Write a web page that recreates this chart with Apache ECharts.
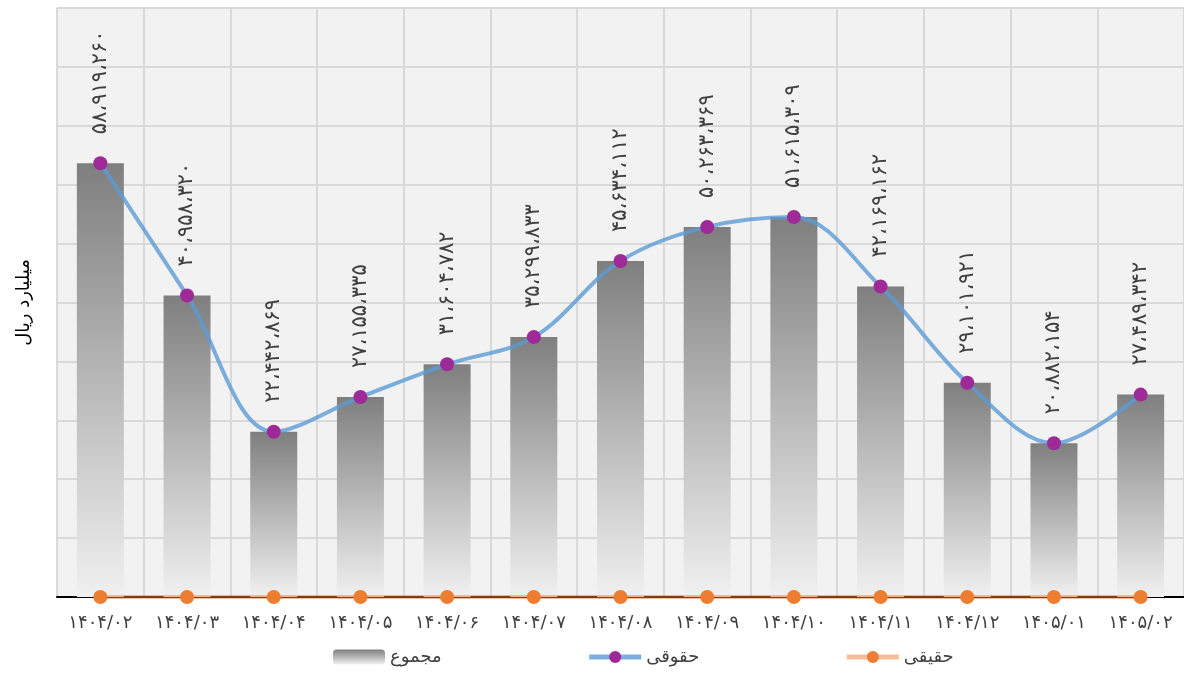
<!DOCTYPE html>
<html>
<head>
<meta charset="utf-8">
<script src="https://cdn.jsdelivr.net/npm/echarts@6/dist/echarts.min.js"></script>
<style>
  html, body { margin: 0; padding: 0; background: #ffffff; }
  #chart { width: 1184px; height: 675px; }
</style>
</head>
<body>
<div id="chart"></div>
<script>
// Monthly periods (Persian calendar)
const categories = ['۱۴۰۴/۰۲', '۱۴۰۴/۰۳', '۱۴۰۴/۰۴', '۱۴۰۴/۰۵', '۱۴۰۴/۰۶', '۱۴۰۴/۰۷', '۱۴۰۴/۰۸',
                    '۱۴۰۴/۰۹', '۱۴۰۴/۱۰', '۱۴۰۴/۱۱', '۱۴۰۴/۱۲', '۱۴۰۵/۰۱', '۱۴۰۵/۰۲'];
// Total (bars)
const totalValues = [58919260, 40958320, 22442869, 27155335, 31604782, 35299833, 45634112,
                     50263369, 51615309, 42169162, 29101921, 20882154, 27489342];
// Legal entities (smooth line)
const legalValues = [58919260, 40958320, 22442869, 27155335, 31604782, 35299833, 45634112,
                     50263369, 51615309, 42169162, 29101921, 20882154, 27489342];
// Natural persons (flat line)
const naturalValues = [0, 0, 0, 0, 0, 0, 0, 0, 0, 0, 0, 0, 0];

const seriesNames = ['مجموع', 'حقوقی', 'حقیقی'];
const axisName = 'میلیارد ریال';

const FONT = 'DejaVu Sans';
const faDigits = '۰۱۲۳۴۵۶۷۸۹';
function toPersian(n) {
  const s = String(Math.round(n)).replace(/\B(?=(\d{3})+(?!\d))/g, ',');
  return s.replace(/\d/g, d => faDigits[+d]).replace(/,/g, '،');
}

const chart = echarts.init(document.getElementById('chart'), null, { renderer: 'canvas' });

const barGradient = new echarts.graphic.LinearGradient(0, 0, 0, 1, [
  { offset: 0, color: '#7f7f7f' },
  { offset: 1, color: '#f0f0f0' }
]);

chart.setOption({
  animation: false,
  backgroundColor: '#ffffff',
  textStyle: { fontFamily: FONT },
  grid: {
    left: 57, right: 0, top: 8, bottom: 78,
    show: true, backgroundColor: '#f2f2f2', borderWidth: 0
  },
  legend: {
    bottom: 4,
    left: 328,
    itemWidth: 52,
    itemHeight: 15,
    itemGap: 145,
    data: [
      { name: seriesNames[0] },
      { name: seriesNames[1], lineStyle: { width: 5 } },
      { name: seriesNames[2], lineStyle: { width: 5 } }
    ],
    textStyle: { fontFamily: FONT, fontSize: 18, color: '#404040' }
  },
  xAxis: {
    type: 'category',
    data: categories,
    boundaryGap: true,
    axisLine: { show: true, lineStyle: { color: '#000000', width: 2 } },
    axisTick: { show: false },
    axisLabel: { color: '#404040', fontSize: 18, margin: 17, fontFamily: FONT, interval: 0 },
    splitLine: { show: true, lineStyle: { color: '#d9d9d9', width: 2 } }
  },
  yAxis: {
    type: 'value',
    min: 0,
    max: 80000000,
    interval: 8000000,
    name: axisName,
    nameLocation: 'middle',
    nameRotate: 90,
    nameGap: 24,
    nameTextStyle: { color: '#000000', fontSize: 18, fontFamily: FONT },
    axisLine: { show: false },
    axisTick: { show: false },
    axisLabel: { show: false },
    splitLine: { show: true, lineStyle: { color: '#d9d9d9', width: 2 } }
  },
  series: [
    {
      name: seriesNames[0],
      type: 'bar',
      data: totalValues,
      barWidth: 47,
      itemStyle: { color: barGradient },
      z: 2
    },
    {
      name: seriesNames[1],
      type: 'line',
      data: legalValues,
      smooth: 0.35,
      symbol: 'circle',
      symbolSize: 14,
      lineStyle: { color: '#5b9bd5', width: 4, opacity: 0.8 },
      itemStyle: { color: '#9e2a98' },
      label: {
        show: true,
        position: 'top',
        distance: 22,
        rotate: 90,
        align: 'left',
        verticalAlign: 'middle',
        color: '#404040',
        fontSize: 21,
        fontFamily: FONT,
        formatter: p => toPersian(p.value)
      },
      z: 4
    },
    {
      name: seriesNames[2],
      type: 'line',
      data: naturalValues,
      symbol: 'circle',
      symbolSize: 14,
      lineStyle: { color: '#ed7d31', width: 4, opacity: 0.5 },
      itemStyle: { color: '#ed7d31' },
      z: 5
    }
  ]
});
</script>
</body>
</html>
